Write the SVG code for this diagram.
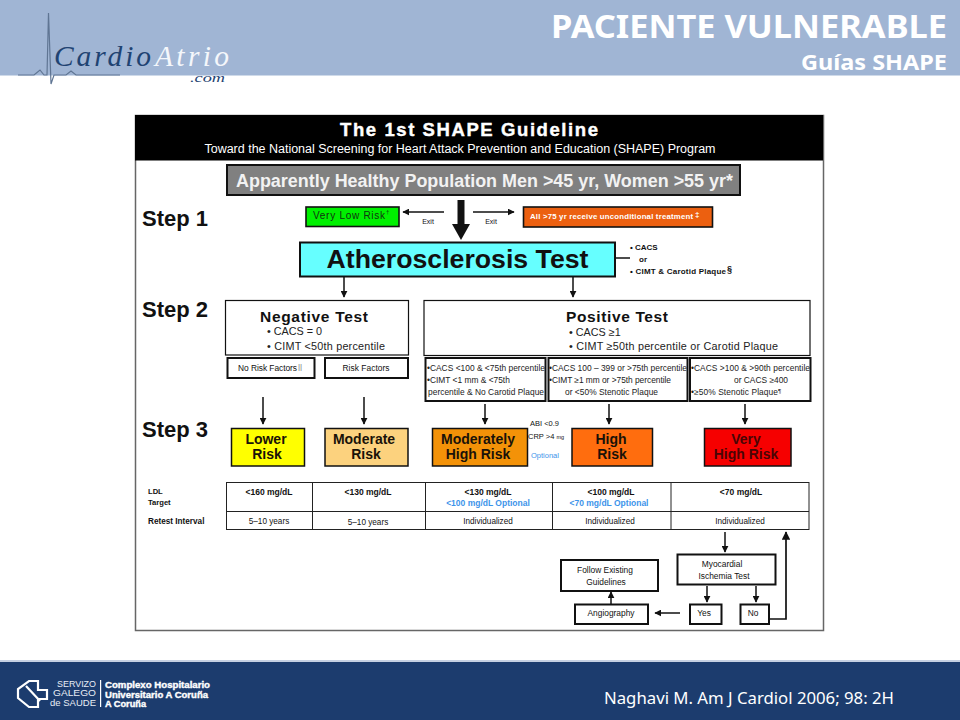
<svg xmlns="http://www.w3.org/2000/svg" width="960" height="720" viewBox="0 0 960 720">
<style>
text{font-family:"Liberation Sans",Arial,sans-serif;fill:#111}
.h{font-family:"Noto Sans","Liberation Sans",sans-serif}
.b{font-weight:bold}
.m{text-anchor:middle}
.box{stroke:#111;fill:#fff}
.t1{stroke-width:1.2}
.t2{stroke-width:2}
.c{stroke:#111;stroke-width:1.5;fill:none}
.s{font-size:8.400px}
.d{font-size:8.400px;fill:#222}
.risk{font-size:14px;font-weight:bold;text-anchor:middle;fill:#1a1208}
.step{font-size:22px;font-weight:bold}
.blue{fill:#3d94ea}
.l{font-family:"Liberation Serif",serif;font-style:italic}
.g{font-size:8.200px;fill:#e8edf5;text-anchor:end}
.r{font-size:8.300px;font-weight:bold;fill:#fff;stroke:#fff;stroke-width:.35}
.tv{font-size:8.500px;font-weight:bold;text-anchor:middle}
.tr{font-size:8.200px;text-anchor:middle}
</style>
<defs>
<marker id="a" viewBox="0 0 10 10" refX="9" refY="5" markerWidth="7" markerHeight="7" orient="auto" markerUnits="userSpaceOnUse"><path d="M0 0L10 5L0 10z" fill="#111"/></marker>
<marker id="a2" viewBox="0 0 10 10" refX="9" refY="5" markerWidth="8.500" markerHeight="8.500" orient="auto" markerUnits="userSpaceOnUse"><path d="M0 0L10 5L0 10z" fill="#111"/></marker>
</defs>
<rect width="960" height="720" fill="#fff"/>
<g id="header">
<rect width="960" height="75.500" fill="#a0b5d4"/>
<path d="M18 75H34L40 70L44 75H47L48.500 13L51 84L54 75H66L71 71L76 75H120" fill="none" stroke="#5f7593" stroke-width="1.200"/>
<text x="54" y="66" class="l" style="font-size:29.500px;fill:#1f4372" textLength="97" lengthAdjust="spacing">Cardio</text>
<text x="155" y="66" class="l" style="font-size:29.500px;fill:#f4f7fb" textLength="74" lengthAdjust="spacing">Atrio</text>
<text x="190" y="82" class="l" style="font-size:11.500px;fill:#1f4372" textLength="35" lengthAdjust="spacingAndGlyphs">.com</text>
<text x="947" y="38" text-anchor="end" class="h b" style="font-size:32px;fill:#fff" textLength="396" lengthAdjust="spacingAndGlyphs">PACIENTE VULNERABLE</text>
<text x="947" y="70" text-anchor="end" class="h b" style="font-size:20.500px;fill:#fff" textLength="146" lengthAdjust="spacingAndGlyphs">Guías SHAPE</text>
</g>
<g id="footer">
<rect y="660" width="960" height="3" fill="#c5d0e2"/>
<rect y="662" width="960" height="58" fill="#1c3c6e"/>
<path d="M29 681H38V690H47V699H38V707H29L18 698V689ZM26 686L40 701" fill="none" stroke="#fff" stroke-width="2.200"/>
<text x="96" y="687" class="g" textLength="39" lengthAdjust="spacingAndGlyphs">SERVIZO</text>
<text x="96" y="696" class="g" textLength="43" lengthAdjust="spacingAndGlyphs">GALEGO</text>
<text x="96" y="705.500" class="g" textLength="46" lengthAdjust="spacingAndGlyphs">de SAUDE</text>
<rect x="100" y="680" width="1.200" height="27" fill="#fff"/>
<text x="105" y="688" class="r" textLength="105" lengthAdjust="spacingAndGlyphs">Complexo Hospitalario</text>
<text x="105" y="697.500" class="r" textLength="103" lengthAdjust="spacingAndGlyphs">Universitario A Coruña</text>
<text x="105" y="707" class="r" textLength="41" lengthAdjust="spacingAndGlyphs">A Coruña</text>
<text x="604" y="704" class="h" style="font-size:15.500px;fill:#fff" textLength="290" lengthAdjust="spacingAndGlyphs">Naghavi M. Am J Cardiol 2006; 98: 2H</text>
</g>
<g id="frame">
<rect x="135.500" y="115.500" width="688" height="515" fill="#fff" stroke="#666" stroke-width="1.500"/>
<rect x="135" y="115" width="688" height="45.500" fill="#000"/>
<text x="469" y="136" class="b m" style="font-size:18.500px;fill:#fff;stroke:#fff;stroke-width:.4" textLength="258" lengthAdjust="spacing">The 1st SHAPE Guideline</text>
<text x="460" y="153" class="m" style="font-size:12.500px;fill:#fff" textLength="511" lengthAdjust="spacing">Toward the National Screening for Heart Attack Prevention and Education (SHAPE) Program</text>
</g>
<g id="steps">
<text x="142" y="226" class="step">Step 1</text>
<text x="142" y="317" class="step">Step 2</text>
<text x="142" y="437" class="step">Step 3</text>
</g>
<g id="connectors">
<path d="M461 200V229" stroke="#111" stroke-width="7" fill="none"/>
<path d="M452 224H470L461 240z" fill="#111"/>
<path class="c" d="M444 212H403" marker-end="url(#a)"/>
<path class="c" d="M473 212H514" marker-end="url(#a)"/>
<path class="c" d="M344 277V297" marker-end="url(#a)"/>
<path class="c" d="M573 277V297" marker-end="url(#a)"/>
<path class="c" d="M615 258H630"/>
<path class="c" d="M263 397V424" marker-end="url(#a)"/>
<path class="c" d="M364 397V424" marker-end="url(#a)"/>
<path class="c" d="M485 404V424" marker-end="url(#a)"/>
<path class="c" d="M609 404V424" marker-end="url(#a)"/>
<path class="c" d="M745 404V424" marker-end="url(#a)"/>
<path class="c" d="M725 532V552" marker-end="url(#a)"/>
<path class="c" d="M707 586V602" marker-end="url(#a)"/>
<path class="c" d="M756 586V602" marker-end="url(#a)"/>
<path class="c" d="M680 613H655" marker-end="url(#a)"/>
<path class="c" d="M611 604V592" marker-end="url(#a)"/>
<path d="M769 619H786V532" stroke="#111" stroke-width="1.700" fill="none" marker-end="url(#a2)"/>
</g>
<g id="population">
<rect x="227" y="165" width="513" height="30" fill="#808080" stroke="#111" stroke-width="2"/>
<text x="484.500" y="187" class="b m" style="font-size:18px;fill:#f2f2f2" textLength="497" lengthAdjust="spacingAndGlyphs">Apparently Healthy Population Men &gt;45 yr, Women &gt;55 yr*</text>
</g>
<g id="very-low-risk">
<rect x="306" y="207" width="93" height="19.500" fill="#00f000" stroke="#111" stroke-width="1.600"/>
<text x="313" y="219" style="font-size:10px;fill:#113311" textLength="72" lengthAdjust="spacing">Very Low Risk</text>
<text x="386" y="214" style="font-size:6px;fill:#113311">†</text>
</g>
<text x="428" y="224" class="m" style="font-size:7px">Exit</text>
<text x="491" y="224" class="m" style="font-size:7px">Exit</text>
<g id="unconditional">
<rect x="523.500" y="207" width="189" height="20" fill="#ec6010" stroke="#111" stroke-width="1.600"/>
<text x="530" y="219" class="b" style="font-size:7.800px;fill:#fff" textLength="163" lengthAdjust="spacing">All &gt;75 yr receive unconditional treatment</text>
<text x="695" y="217" class="b" style="font-size:8px;fill:#fff">‡</text>
</g>
<g id="atherosclerosis-test">
<rect x="300" y="242.500" width="315" height="34" fill="#66ffff" stroke="#111" stroke-width="2"/>
<text x="457.500" y="268" class="b m" style="font-size:25px" textLength="262" lengthAdjust="spacingAndGlyphs">Atherosclerosis Test</text>
</g>
<g id="test-options">
<text x="630" y="250" class="b" style="font-size:8px">• CACS</text>
<text x="639" y="262" class="b" style="font-size:8px">or</text>
<text x="630" y="274" class="b" style="font-size:8px" textLength="96" lengthAdjust="spacing">• CIMT &amp; Carotid Plaque</text>
<text x="727" y="272" class="b" style="font-size:9px">§</text>
</g>
<g id="negative-test">
<rect class="box t1" x="225.500" y="300.500" width="183" height="54.500"/>
<text x="314" y="322" class="b m" style="font-size:15.500px" textLength="108" lengthAdjust="spacing">Negative Test</text>
<text x="267" y="335" style="font-size:10.800px;fill:#222">• CACS = 0</text>
<text x="267" y="350" style="font-size:10.800px;fill:#222" textLength="118" lengthAdjust="spacing">• CIMT &lt;50th percentile</text>
</g>
<g id="positive-test">
<rect class="box t1" x="424" y="300.500" width="386" height="55"/>
<text x="617" y="322" class="b m" style="font-size:15.500px" textLength="102" lengthAdjust="spacing">Positive Test</text>
<text x="569" y="336" style="font-size:10.800px;fill:#222">• CACS ≥1</text>
<text x="569" y="350" style="font-size:10.800px;fill:#222" textLength="209" lengthAdjust="spacing">• CIMT ≥50th percentile or Carotid Plaque</text>
</g>
<g id="no-risk-factors">
<rect class="box t2" x="227.500" y="358" width="87" height="20"/>
<text x="238" y="371" class="s" textLength="59" lengthAdjust="spacing">No Risk Factors</text>
<text x="298" y="369" style="font-size:8px;fill:#777">||</text>
</g>
<g id="risk-factors">
<rect class="box t2" x="325" y="358" width="83" height="20"/>
<text x="366" y="371" class="s m" textLength="47" lengthAdjust="spacing">Risk Factors</text>
</g>
<g id="cacs-moderate">
<rect class="box t2" x="425.500" y="358" width="120" height="43"/>
<text x="427" y="371" class="d" textLength="118" lengthAdjust="spacing">•CACS &lt;100 &amp; &lt;75th percentile</text>
<text x="427" y="383" class="d">•CIMT &lt;1 mm &amp; &lt;75th</text>
<text x="428" y="395" class="d" textLength="116" lengthAdjust="spacing">percentile &amp; No Carotid Plaque</text>
</g>
<g id="cacs-high">
<rect class="box t2" x="548.500" y="358" width="139" height="43"/>
<text x="549" y="371" class="d" textLength="138" lengthAdjust="spacing">•CACS 100 – 399 or &gt;75th percentile</text>
<text x="549" y="383" class="d" textLength="122" lengthAdjust="spacing">•CIMT ≥1 mm or &gt;75th percentile</text>
<text x="565" y="395" class="d" textLength="93" lengthAdjust="spacing">or &lt;50% Stenotic Plaque</text>
</g>
<g id="cacs-very-high">
<rect class="box t2" x="690" y="358" width="120.500" height="43"/>
<text x="691" y="371" class="d" textLength="119" lengthAdjust="spacing">•CACS &gt;100 &amp; &gt;90th percentile</text>
<text x="734" y="383" class="d" textLength="54" lengthAdjust="spacing">or CACS ≥400</text>
<text x="691" y="395" class="d" textLength="87" lengthAdjust="spacing">•≥50% Stenotic Plaque</text>
<text x="778" y="393" style="font-size:6px">¶</text>
</g>
<g id="lower-risk">
<rect x="231.500" y="428.500" width="73" height="37.500" fill="#ffff00" stroke="#111" stroke-width="1.500"/>
<text x="266" y="444" class="risk">Lower</text>
<text x="267" y="459" class="risk">Risk</text>
</g>
<g id="moderate-risk">
<rect x="325" y="428.500" width="83" height="37.500" fill="#fcd27e" stroke="#111" stroke-width="1.500"/>
<text x="364" y="444" class="risk">Moderate</text>
<text x="366" y="459" class="risk">Risk</text>
</g>
<g id="moderately-high-risk">
<rect x="432.500" y="428.500" width="95" height="37.500" fill="#f39208" stroke="#111" stroke-width="1.500"/>
<text x="478" y="444" class="risk">Moderately</text>
<text x="478" y="459" class="risk">High Risk</text>
</g>
<g id="high-risk">
<rect x="572" y="428.500" width="80.500" height="37.500" fill="#ff6d0e" stroke="#111" stroke-width="1.500"/>
<text x="611" y="444" class="risk">High</text>
<text x="612" y="459" class="risk">Risk</text>
</g>
<g id="very-high-risk">
<rect x="704.500" y="428.500" width="86.500" height="37.500" fill="#f60000" stroke="#111" stroke-width="1.500"/>
<text x="746" y="444" class="risk" style="fill:#4a0505">Very</text>
<text x="746" y="459" class="risk" style="fill:#4a0505">High Risk</text>
</g>
<g id="optional-tests">
<text x="530" y="426" style="font-size:7.500px">ABI &lt;0.9</text>
<text x="528" y="439" style="font-size:7.500px">CRP &gt;4 <tspan style="font-size:5.500px">mg</tspan></text>
<text x="531" y="458" class="blue" style="font-size:7.500px">Optional</text>
</g>
<g id="ldl-table">
<text x="148" y="494" class="b" style="font-size:7.600px">LDL</text>
<text x="148" y="505" class="b" style="font-size:7.600px">Target</text>
<text x="148" y="524" class="b" style="font-size:8.200px">Retest Interval</text>
<rect x="226.500" y="482.500" width="582.500" height="47" fill="#fff" stroke="#222" stroke-width="1"/>
<path d="M226 511.500H809M312.500 482V530M425.500 482V530M552.500 482V530M671 482V530" stroke="#222" stroke-width="1" fill="none"/>
<text x="269" y="495" class="tv">&lt;160 mg/dL</text>
<text x="368" y="495" class="tv">&lt;130 mg/dL</text>
<text x="488" y="495" class="tv">&lt;130 mg/dL</text>
<text x="611" y="495" class="tv">&lt;100 mg/dL</text>
<text x="741" y="495" class="tv">&lt;70 mg/dL</text>
<text x="488" y="506" class="tv blue">&lt;100 mg/dL Optional</text>
<text x="609" y="506" class="tv blue">&lt;70 mg/dL Optional</text>
<text x="269" y="524" class="tr">5–10 years</text>
<text x="368" y="525" class="tr">5–10 years</text>
<text x="488" y="524" class="tr">Individualized</text>
<text x="610" y="524" class="tr">Individualized</text>
<text x="740" y="524" class="tr">Individualized</text>
</g>
<g id="myocardial-ischemia-test">
<rect class="box t2" x="677.500" y="554.500" width="98" height="30"/>
<text x="722" y="567" class="s m">Myocardial</text>
<text x="724" y="579" class="s m">Ischemia Test</text>
</g>
<g id="follow-guidelines">
<rect class="box t2" x="561" y="560" width="97" height="31"/>
<text x="605" y="573" class="s m">Follow Existing</text>
<text x="606" y="585" class="s m">Guidelines</text>
</g>
<g id="angiography">
<rect class="box t2" x="575" y="604.500" width="73" height="19.500"/>
<text x="611" y="616" class="s m">Angiography</text>
</g>
<g id="yes">
<rect class="box t2" x="690" y="604.500" width="31.500" height="19.500"/>
<text x="704" y="616" class="s m">Yes</text>
</g>
<g id="no">
<rect class="box t2" x="740.500" y="604.500" width="28.500" height="19.500"/>
<text x="753" y="616" class="s m">No</text>
</g>
</svg>
